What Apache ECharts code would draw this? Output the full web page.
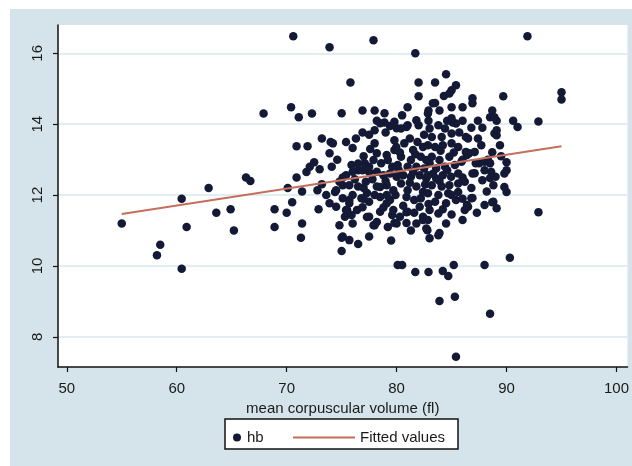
<!DOCTYPE html>
<html>
<head>
<meta charset="utf-8">
<script src="https://cdn.jsdelivr.net/npm/echarts@6/dist/echarts.min.js"></script>
<style>
html,body{margin:0;padding:0;background:#ffffff;}
#chart{width:632px;height:466px;}
</style>
</head>
<body>
<div id="chart"></div>
<script>
// hb vs mean corpuscular volume
var mcv = [
55,58.2,58.5,60.45,60.45,60.9,62.9,63.6,64.9,65.2,66.3,66.7,67.9,68.9,68.9,70,70.1,70.5,70.4,70.6,
71.1,72.3,70.9,71.9,71.4,71.4,71.3,70.9,71.8,72.1,72.5,73,72.8,72.9,73.2,73.9,77.9,75.8,75,76.9,
78,78.9,78.2,78.9,76.9,78,79,80,74,75.4,76,73.9,74.6,78,78.2,79.1,79.8,79.8,75.9,76.5,
77.1,77.5,75.1,73.2,73.6,73.9,75.5,75.9,75.7,76.4,76.9,77.3,78.2,79.1,79.6,74.5,75.1,77.3,78.5,79.1,
74.8,75,75.7,76.5,75,78,79.5,80.1,
91.9,81.7,84.5,82,83.5,85.4,85,84.8,82,89.7,86.9,86.9,81,83.3,83.9,82.9,85,86,88.7,88.5,
89.1,87.4,85,85.1,90.6,91,92.9,95,95,82.9,82,80.9,89.1,89.1,89.4,88.7,87.4,87.7,86.5,85.7,
86.6,86.4,90,90,88.5,88,87.1,88.5,89.8,90,92.9,88.7,88,86.9,86.4,86,83.9,82.8,82.4,80.9,
80.9,79.8,80.5,81.7,82.9,84.2,84.7,85.2,88,90.3,83.9,85.3,88.5,85.4,
78.5,79.8,80.4,81,81.8,74.2,77.9,79.2,79.97,80.7,81.2,81.9,82.4,81.5,80.4,81.3,82.2,82.7,80.1,81,
81.8,82.5,74.1,76.5,76.9,77.5,76,75.4,78.2,78.8,79.4,80,80.6,81.3,82.1,82.7,74.8,75.7,76.5,77.2,
74.4,78.2,79.1,79.7,80.4,81,81.8,82.4,80.9,81.6,82.2,75.1,75.7,76.8,77.5,78.5,79.4,74.5,75.4,75.3,
77.5,78.5,79.7,80.3,81,82.1,82.4,81.8,76,77.9,80,82.7,75.1,77.5,
82.85,85.4,88.9,88.9,83,83.8,84.4,83.2,84.1,85,86.3,82.85,83.5,84.2,85,85.6,86.3,87.1,88,83.2,
83.9,84.8,83.6,84.4,85.3,85.9,86.9,87.8,88.6,89,89.8,82.85,83.6,84.2,84.96,85.6,83.2,84.1,84.8,85.6,
86.2,88.8,82.85,83.8,84.7,85.6,83.5,84.5,85.4,86.8,86.5,88.8,89.1,83,83.8,82.85,86.2,83.8,83,
77.0,77.6,78.6,79.6,80.3,81.7,83.0,84.0,85.2,86.0,76.2,77.8,79.0,80.2,81.5,83.3,84.6,86.0,86.8,87.5,
76.0,77.0,78.0,79.9,81.2,82.6,83.9,85.0,86.0,87.3,77.0,78.8,80.6,81.6,82.9,84.2,85.0,84.5,81.3,79.2,
76.3,77.5,79.4,82.5,84.6,86.0,83.5,84.3,80.5,87.8,88.3,89.5,88.2,87.2,86.8
];
var hb = [
11.2,10.3,10.6,9.92,11.9,11.1,12.2,11.5,11.6,11.0,12.5,12.4,14.3,11.6,11.1,11.5,12.2,11.8,14.48,16.48,
14.2,14.3,13.38,13.38,12.1,11.2,10.8,12.5,12.65,12.8,12.93,12.73,12.14,11.6,13.6,16.17,16.37,15.18,14.31,14.39,
14.39,14.31,14.1,14.05,13.77,13.83,13.77,13.89,13.5,13.5,13.33,13.18,13.0,13.46,13.18,13.13,13.55,13.27,12.85,12.7,
12.9,12.65,12.5,12.31,12.0,11.77,11.58,11.44,11.86,11.58,11.66,11.38,11.24,11.77,11.44,12.14,12.28,12.06,12.23,12.0,
11.15,10.8,10.73,10.62,10.42,11.15,10.72,10.03,
16.48,16.0,15.41,15.18,15.18,15.1,14.96,14.87,14.79,14.79,14.73,14.59,14.48,14.59,14.39,14.39,14.48,14.48,14.39,14.2,
14.1,14.1,14.17,14.05,14.1,13.92,14.08,14.9,14.7,14.1,13.97,13.92,13.83,13.69,13.41,13.21,13.6,13.41,13.6,13.77,
13.18,13.13,12.93,12.7,12.9,12.7,12.62,12.48,12.23,12.09,11.52,11.8,11.72,11.92,11.72,11.3,10.93,11.01,11.3,11.21,
11.52,11.21,10.03,9.83,9.83,9.86,9.72,10.03,10.03,10.23,9.01,9.13,8.65,7.44,
14.03,14.07,13.88,13.97,14.11,13.46,12.99,12.99,13.36,13.46,13.6,13.5,13.36,13.27,13.08,12.99,13.08,12.99,12.85,12.8,
12.8,12.75,12.8,12.89,12.7,12.8,12.66,12.56,12.66,12.56,12.61,12.52,12.56,12.52,12.56,12.47,12.38,12.28,12.24,12.38,
12.09,12.24,12.28,12.14,12.33,12.14,12.24,12.09,11.95,11.86,11.91,11.91,11.77,11.91,11.81,11.95,11.86,11.67,11.58,11.39,
11.39,11.53,11.58,11.39,11.53,11.67,11.39,11.2,11.2,11.15,11.2,11.06,10.83,10.83,
14.3,14.02,14.2,13.74,13.88,13.97,13.88,13.64,13.64,13.74,13.64,13.41,13.36,13.41,13.46,13.36,13.22,13.22,12.94,13.08,
12.99,13.08,12.75,12.8,12.85,12.94,12.61,12.42,12.66,12.52,12.61,12.56,12.47,12.56,12.52,12.61,12.28,12.24,12.28,12.33,
12.38,12.28,12.05,12.0,12.05,12.09,11.81,11.77,11.86,11.91,11.67,11.81,11.63,11.58,11.48,11.3,11.58,10.87,10.78,
13.1,13.3,12.9,12.8,13.2,13.15,12.9,13.25,13.2,13.0,12.45,12.45,12.4,12.7,12.65,12.6,12.7,12.5,12.2,12.9,
12.0,12.2,12.0,12.0,12.35,12.3,12.4,12.0,11.9,11.5,11.9,11.65,11.7,11.5,11.75,11.6,11.45,11.2,11.0,11.1,
13.6,13.7,13.95,13.7,14.1,14.1,14.6,14.8,14.25,13.9,13.0,13.1,12.1,12.9,13.9
];
// fitted line end points
var fitX = [55, 95];
var fitY = [11.47, 13.38];
var xTicks = [50, 60, 70, 80, 90, 100];
var yTicks = [8, 10, 12, 14, 16];

var points = [];
var n = Math.min(mcv.length, hb.length);
for (var i = 0; i < n; i++) points.push([mcv[i], hb[i]]);
var fit = fitX.map(function (x, i) { return [x, fitY[i]]; });

var chart = echarts.init(document.getElementById('chart'), null, {renderer: 'canvas'});
var FF = 'Liberation Sans, Arial, sans-serif';
var labelFont = {fontFamily: FF, fontSize: 15, color: '#1a1a1a'};
chart.setOption({
  animation: false,
  backgroundColor: 'transparent',
  graphic: [
    {type: 'rect', z: -10, shape: {x: 10, y: 9, width: 622, height: 457}, style: {fill: '#d4e4ea'}},
    {type: 'rect', z: 5, shape: {x: 225, y: 419, width: 233, height: 30}, style: {fill: '#ffffff', stroke: '#111', lineWidth: 1.5}}
  ],
  grid: {left: 58, right: 4, top: 25, bottom: 99, show: true, backgroundColor: '#ffffff', borderWidth: 0},
  xAxis: {
    type: 'value', min: 49.2, max: 101,
    name: 'mean corpuscular volume (fl)', nameLocation: 'middle', nameGap: 22,
    nameTextStyle: {fontFamily: FF, fontSize: 15, color: '#1a1a1a'},
    axisLine: {show: true, onZero: false, lineStyle: {color: '#111', width: 1.5}},
    axisTick: {show: true, length: 5, customValues: xTicks, lineStyle: {color: '#111', width: 1.2}},
    axisLabel: Object.assign({customValues: xTicks, margin: 14}, labelFont),
    splitLine: {show: false}
  },
  yAxis: {
    type: 'value', min: 7.15, max: 16.8,
    axisLine: {show: true, onZero: false, lineStyle: {color: '#111', width: 1.5}},
    axisTick: {show: true, length: 5, customValues: yTicks, lineStyle: {color: '#111', width: 1.2}},
    axisLabel: Object.assign({customValues: yTicks, margin: 13, rotate: 90}, labelFont),
    splitLine: {show: true, lineStyle: {color: '#d6e7ef', width: 1.5}}
  },
  legend: [
    {data: ['hb'], left: 228, top: 425, itemWidth: 10, itemHeight: 8, itemGap: 4, z: 6,
     textStyle: {fontFamily: FF, fontSize: 15, color: '#1a1a1a'}},
    {data: [{name: 'Fitted values', icon: 'rect'}], left: 288, top: 425, itemWidth: 62, itemHeight: 2, z: 6,
     textStyle: {fontFamily: FF, fontSize: 15, color: '#1a1a1a'}}
  ],
  series: [
    {name: 'hb', type: 'scatter', data: points, symbol: 'circle', symbolSize: 8.5,
     itemStyle: {color: '#141a36', opacity: 1}, z: 3},
    {name: 'Fitted values', type: 'line', data: fit, symbol: 'none', showSymbol: false,
     lineStyle: {color: '#c2705c', width: 2}, itemStyle: {color: '#c2705c'}, z: 4}
  ]
});
</script>
</body>
</html>
